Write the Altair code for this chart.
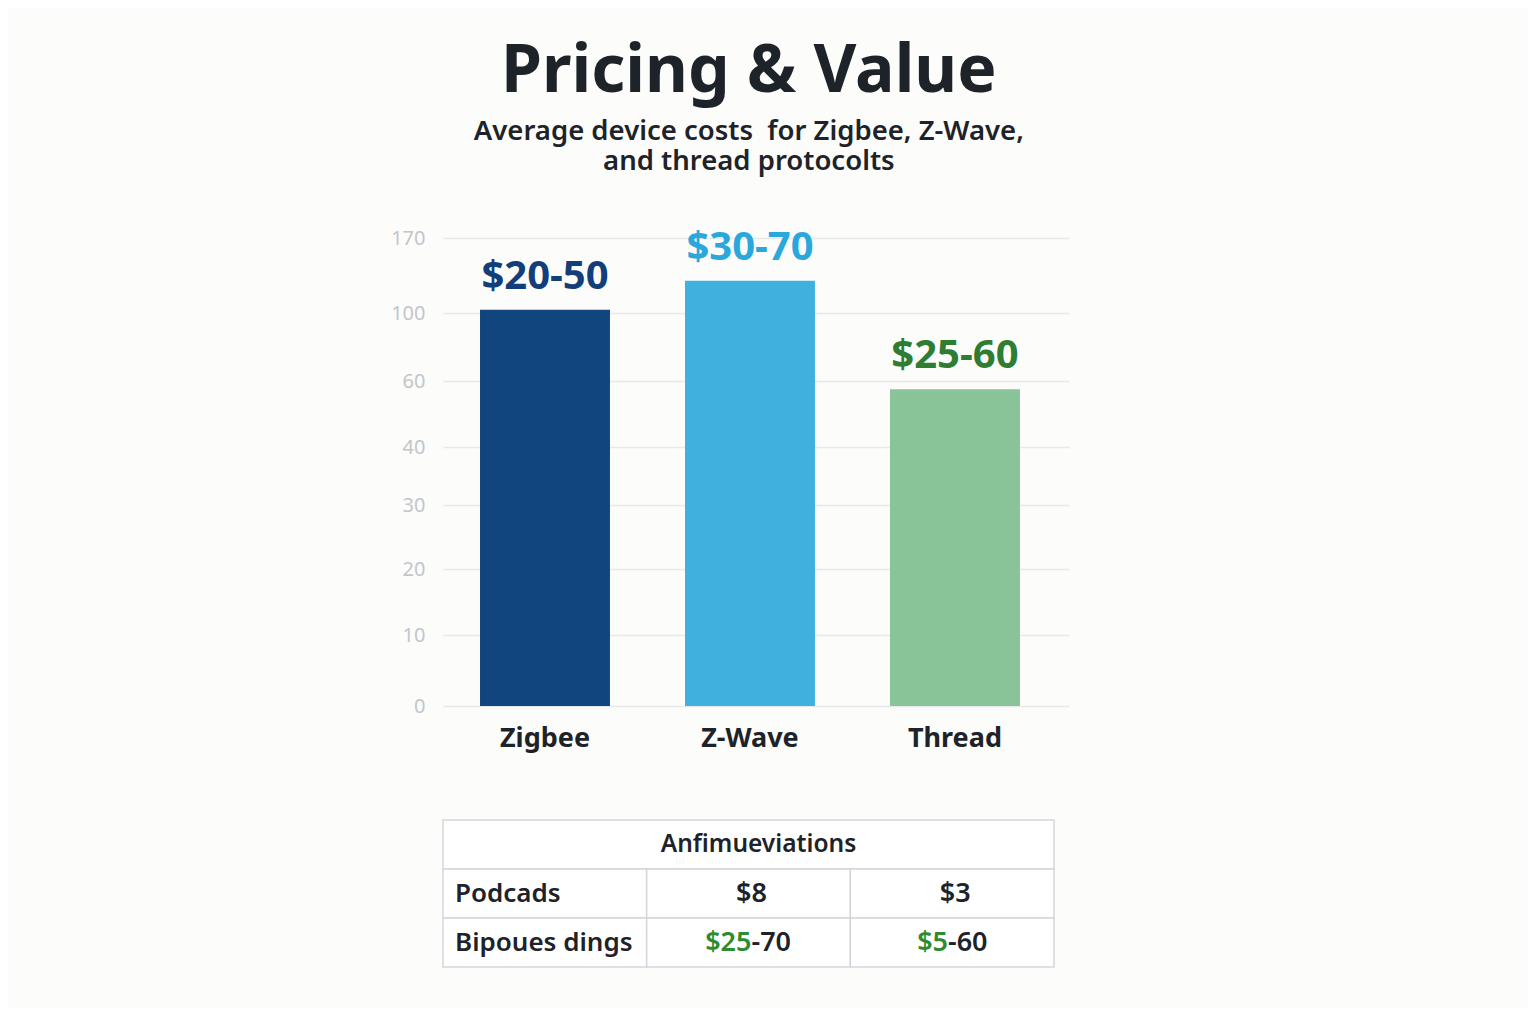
import altair as alt
import pandas as pd

FONT = "Noto Sans"
DARK = "#1e2329"

# bar chart data
protocols = ["Zigbee", "Z-Wave", "Thread"]
avg_cost = [103, 130, 57.5]
price_labels = ["$20-50", "$30-70", "$25-60"]
bar_colors = ["#11457e", "#40b0de", "#88c497"]
label_colors = ["#123f7a", "#2aa8dc", "#2e7d32"]

# uneven y ticks, as in the picture
y_ticks = [0, 10, 20, 30, 40, 60, 100, 170]
y_tick_px = [468, 397, 331, 267, 209, 143, 75, 0]

# table data
table_header = "Anfimueviations"
row_labels = ["Podcads", "Bipoues dings"]
podcads_values = ["$8", "$3"]
range_prefix = ["$25", "$5"]
range_suffix = ["-70", "-60"]

bars_df = pd.DataFrame({"protocol": protocols, "cost": avg_cost, "label": price_labels})

x_enc = alt.X("protocol:N", sort=protocols, title=None,
              scale=alt.Scale(paddingInner=0.366, paddingOuter=0.21, align=0.43),
              axis=alt.Axis(labelAngle=0, labelFontSize=27, labelFontWeight="bold",
                            labelColor=DARK, labelPadding=19, ticks=False,
                            domain=False, labelFont=FONT))
y_enc = alt.Y("cost:Q", title=None,
              scale=alt.Scale(domain=y_ticks, range=y_tick_px, nice=False),
              axis=alt.Axis(values=y_ticks, labelFontSize=20, labelColor="#c2c6ca",
                            labelPadding=18, ticks=False, domain=False,
                            gridColor="#e7e9eb", gridWidth=1.5, labelFont=FONT))

bars = alt.Chart(bars_df).mark_bar().encode(
    x=x_enc, y=y_enc,
    color=alt.Color("protocol:N", scale=alt.Scale(domain=protocols, range=bar_colors), legend=None),
)
bar_text = alt.Chart(bars_df).mark_text(dy=-21, baseline="alphabetic", fontSize=40,
                                        fontWeight="bold", font=FONT).encode(
    x=alt.X("protocol:N", sort=protocols),
    y="cost:Q",
    text="label:N",
    color=alt.Color("protocol:N", scale=alt.Scale(domain=protocols, range=label_colors), legend=None),
)
bar_chart = (bars + bar_text).resolve_scale(color="independent").properties(width=626, height=468)

# table cells
cells = [{"x": 0, "x2": 3, "y": 0, "y2": 1}]
for r in range(1, 3):
    for c in range(3):
        cells.append({"x": c, "x2": c + 1, "y": r, "y2": r + 1})
cells_df = pd.DataFrame(cells)

tx = alt.X("x:Q", scale=alt.Scale(domain=[0, 3], nice=False), axis=None)
ty = alt.Y("y:Q", scale=alt.Scale(domain=[0, 3], reverse=True, nice=False), axis=None)

grid = alt.Chart(cells_df).mark_rect(fill="#ffffff", stroke="#d3d6d9", strokeWidth=1.5).encode(
    x=tx, x2="x2:Q", y=ty, y2="y2:Q")

head_df = pd.DataFrame({"x": [1.5], "y": [0.5], "t": [table_header]})
head = alt.Chart(head_df).mark_text(fontSize=24.5, fontWeight=600, color=DARK, font=FONT, dx=10).encode(
    x=tx, y=ty, text="t:N")

rowlab_df = pd.DataFrame({"x": [0, 0], "y": [1.5, 2.5], "t": row_labels})
rowlab = alt.Chart(rowlab_df).mark_text(fontSize=26, fontWeight=600, color=DARK, font=FONT,
                                        align="left", dx=12).encode(x=tx, y=ty, text="t:N")

pod_df = pd.DataFrame({"x": [1.5, 2.5], "y": [1.5, 1.5], "t": podcads_values})
pod = alt.Chart(pod_df).mark_text(fontSize=27, fontWeight=600, color=DARK, font=FONT, dx=3).encode(
    x=tx, y=ty, text="t:N")

# split point of the two-colour cells, so the whole string stays centred
split_x = [c + 1.5 + (len(p) - len(s)) * 0.035
           for c, (p, s) in enumerate(zip(range_prefix, range_suffix))]
pre_df = pd.DataFrame({"x": split_x, "y": [2.5, 2.5], "t": range_prefix})
pre = alt.Chart(pre_df).mark_text(fontSize=27, fontWeight=600, color="#2e8b2e", font=FONT,
                                  align="right", dx=3).encode(x=tx, y=ty, text="t:N")
suf_df = pd.DataFrame({"x": split_x, "y": [2.5, 2.5], "t": range_suffix})
suf = alt.Chart(suf_df).mark_text(fontSize=27, fontWeight=600, color=DARK, font=FONT,
                                  align="left", dx=3).encode(x=tx, y=ty, text="t:N")

table = (grid + head + rowlab + pod + pre + suf).properties(width=611, height=147)

chart = alt.vconcat(bar_chart, table, spacing=68).properties(
    title=alt.TitleParams(
        "Pricing & Value",
        subtitle=["Average device costs\u00a0 for Zigbee, Z-Wave,", "and thread protocolts"],
        fontSize=66, fontWeight="bold", color=DARK, font=FONT,
        subtitleFontSize=27.5, subtitleFontWeight=600, subtitleColor=DARK, subtitleFont=FONT,
        subtitlePadding=12, subtitleLineHeight=30, offset=51, anchor="middle", dx=19,
    ),
    padding={"left": 382, "top": 31, "right": 459, "bottom": 40},
    background="#fcfcfa",
).configure_view(stroke=None)

chart.save("out.html", embed_options={"renderer": "svg", "actions": False})
